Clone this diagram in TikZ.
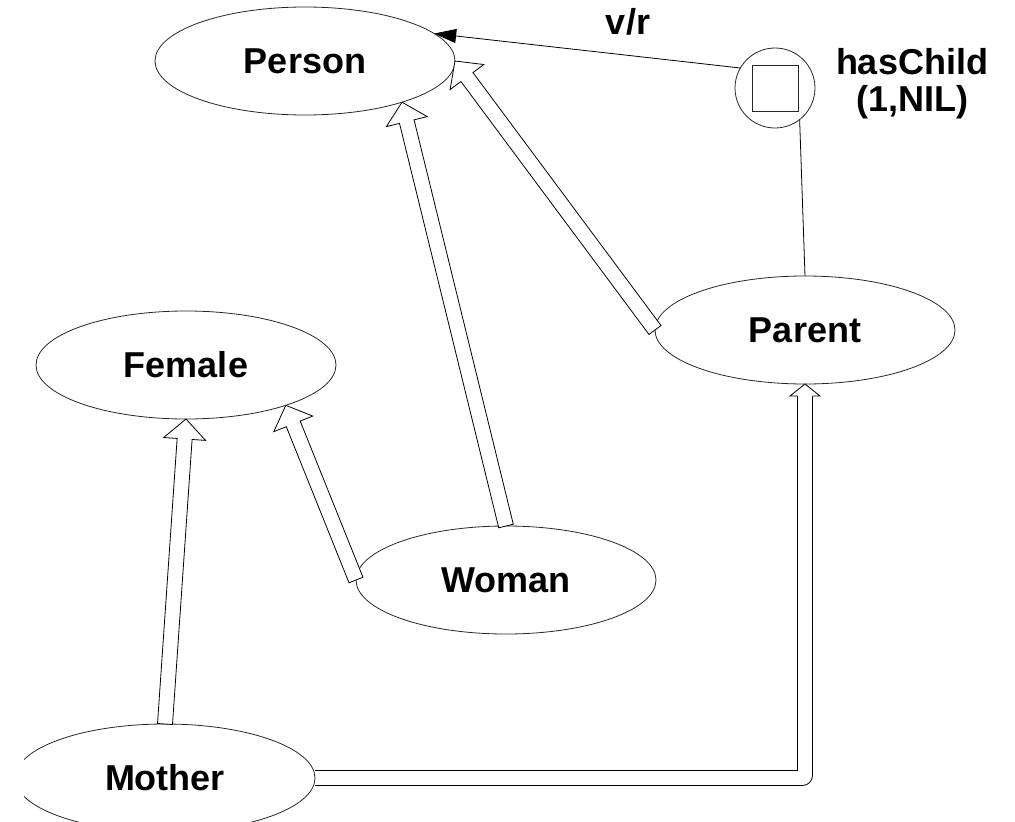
\documentclass[tikz,border=0pt]{standalone}
\usepackage{fontspec}
\setmainfont{Liberation Sans}
\usetikzlibrary{shapes.geometric,calc,arrows.meta}

% hollow "is-a" arrow: double shaft closed at the start, open triangular head
\newcommand{\isashaft}{7.5pt}
\newcommand{\isahead}{20pt}
\newcommand{\isawing}{21pt}
\newcommand{\isaarrow}[2]{%
  \path (#1) coordinate (isaS) (#2) coordinate (isaT);
  \path ($(isaT)!\isahead!(isaS)$) coordinate (isaB);
  \draw[isaline]
    ($(isaS)!\isashaft!90:(isaT)$) --
    ($(isaB)!\isashaft!-90:(isaS)$) --
    ($(isaB)!\isawing!-90:(isaS)$) --
    (isaT) --
    ($(isaB)!\isawing!90:(isaS)$) --
    ($(isaB)!\isashaft!90:(isaS)$) --
    ($(isaS)!\isashaft!-90:(isaT)$) -- cycle;
}

\begin{document}
\begin{tikzpicture}[x=1pt,y=-1pt,
  concept/.style={ellipse,draw=black!85,line width=0.8pt,
    minimum width=300pt,minimum height=108pt,inner sep=0pt,outer sep=0pt,
    font=\fontsize{36}{40}\selectfont\bfseries},
  isaline/.style={draw=black,line width=0.8pt,fill=white,line join=miter},
  link/.style={draw=black,line width=0.8pt},
  lbl/.style={font=\fontsize{36}{37}\selectfont\bfseries,inner sep=0pt,align=center}]
\useasboundingbox (0,0) rectangle (1015,822);
\begin{scope}
\clip (24,0) rectangle (1015,822);

% concepts
\node[concept] (person) at (305,61)  {Person};
\node[concept] (female) at (186,365) {Female};
\node[concept] (parent) at (805,330) {Parent};
\node[concept] (woman)  at (506,580) {Woman};
\node[concept] (mother) at (165,778) {Mother};

% role hasChild with its restriction
\node[circle,draw=black!85,line width=0.8pt,minimum size=80pt,inner sep=0pt,outer sep=0pt]
  (haschild) at (775,88) {};
\node[draw=black!85,line width=0.8pt,minimum size=46pt,inner sep=0pt]
  (haschildbox) at (haschild.center) {};
\node[lbl] (haschildlabel) at (912,84) {hasChild\\(1,NIL)};

% value restriction and role attachment
\draw[link,-{Triangle[length=22pt,width=14pt]}] (haschild.150) -- (person.12);
\node[lbl] (vr) at (628,22) {v/r};
\draw[link] (haschild.-52) -- (parent.north);

% subsumption links
\isaarrow{woman.north}{person.-23}
\isaarrow{woman.west}{female.-22}
\isaarrow{mother.north}{female.south}
\isaarrow{parent.west}{person.east}

% Mother is-a Parent, routed along the bottom
\coordinate (mpA) at ($(mother.east)+(0,-7.5)$);
\coordinate (mpB) at ($(mother.east)+(0,7.5)$);
\coordinate (mpC) at ($(parent.south)+(0,12)$);
\draw[isaline,fill=none] (mpA) -| ($(mpC)+(-7.5,0)$);
\draw[isaline,fill=none,rounded corners=10pt] ($(mpC)+(7.5,0)$) |- (mpB);
\draw[isaline] ($(mpC)+(-7.5,0)$) -- ($(mpC)+(-15,0)$) -- (parent.south)
  -- ($(mpC)+(15,0)$) -- ($(mpC)+(7.5,0)$);
\end{scope}
\end{tikzpicture}
\end{document}
